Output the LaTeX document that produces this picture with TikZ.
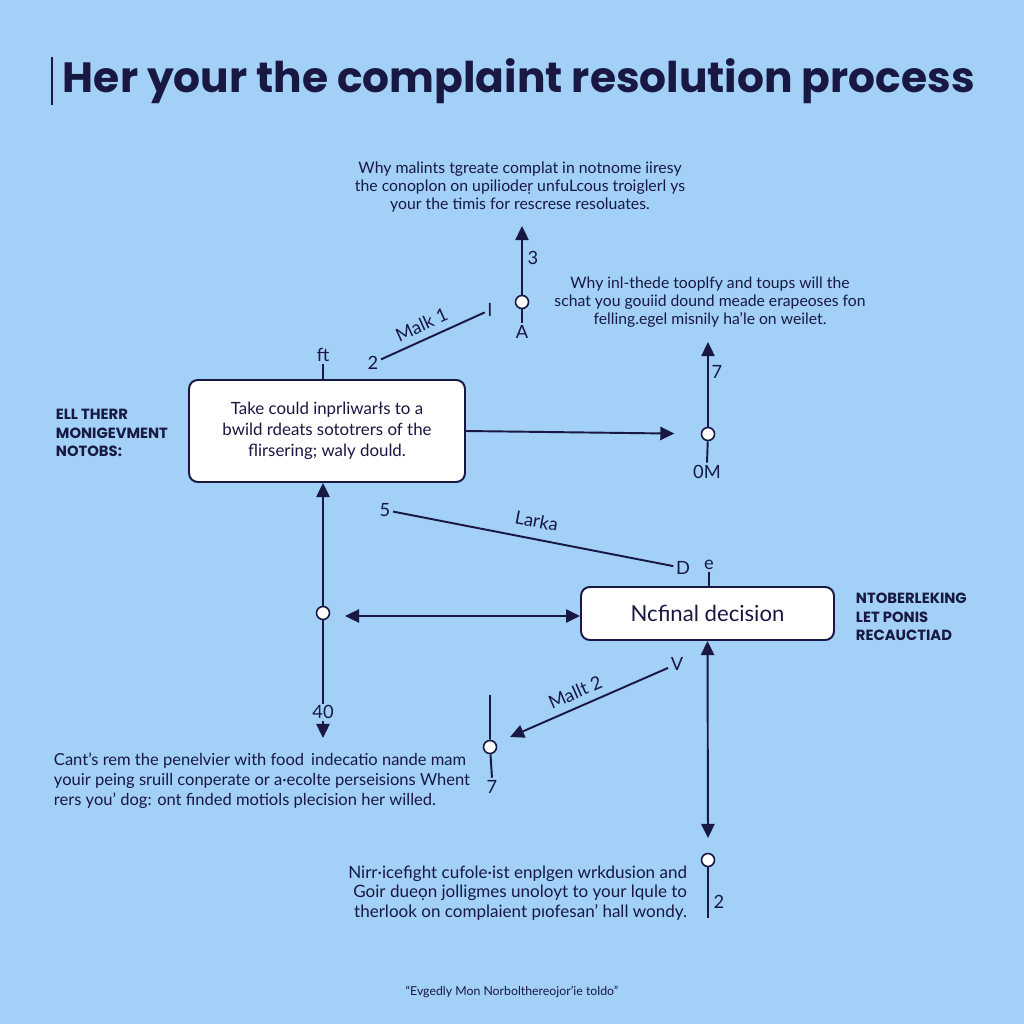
\documentclass[tikz,border=0pt]{standalone}
\usepackage{fontspec}
\setmainfont{Lato}
\newfontfamily\headfont{Poppins}
\usetikzlibrary{arrows.meta,positioning}
\definecolor{skyback}{RGB}{162,208,246}
\definecolor{ink}{RGB}{24,24,66}
\tikzset{
  flow/.style={x=0.02cm, y=-0.02cm, line width=1.1pt, draw=ink, >={Triangle[length=8pt,width=7.5pt]}},
  stepbox/.style={draw=ink, line width=1.1pt, rounded corners=5pt, fill=white, text=ink, align=center},
  dot/.style={circle, draw=ink, fill=white, line width=0.9pt, inner sep=0pt, minimum size=7.4pt},
  para/.style={text=ink, font=\fontsize{9}{10.2}\selectfont, align=center, inner sep=0pt},
  side/.style={text=ink, font=\headfont\bfseries\fontsize{8.4}{10.4}\selectfont, align=left, anchor=west, inner sep=0pt},
  tag/.style={text=ink, font=\fontsize{10.4}{11}\selectfont, inner sep=1pt}
}

\begin{document}
\begin{tikzpicture}[flow]
\fill[skyback] (0,0) rectangle (1024,1024);
\useasboundingbox (0,0) rectangle (1024,1024);
% title
\node[anchor=west, text=ink, inner sep=0pt, font=\headfont\bfseries\fontsize{24.1}{28}\selectfont] (title) at (62,81) {Her your the complaint resolution process};
\draw[line width=0.8pt] ([xshift=-0.2cm]title.north west) -- ([xshift=-0.2cm]title.south west);
% text blocks
\node[para] (topnote) at (520,187) {Why malints tgreate complat in notnome iiresy\\the conoplon on upiliodeṛ unfuLcous troiglerl ys\\your the timis for rescrese resoluates.};
\node[para, font=\fontsize{8.95}{10.2}\selectfont] (rightnote) at (710,302) {Why inl-thede tooplfy and toups will the\\schat you gouiid dound meade erapeoses fon\\felling.egel misnily ha'le on weilet.};
\node[para, align=left, anchor=west, font=\fontsize{9.4}{11.3}\selectfont] (leftnote) at (53,781) {Cant's rem the penelvier with food\, indecatio nande mam\\youir peing sruill conperate or a·ecolte perseisions Whent\\rers you' dog: ont finded motiols plecision her willed.};
\node[para, align=right, anchor=east, font=\fontsize{9.7}{11}\selectfont] (lownote) at (688,893) {Nirr·icefight cufole·ist enplgen wrkdusion and\\Goir dueọn jolligmes unoloyt to your lqule to\\therlook on complaient pıofesan' hall wondy.};
\node[para, font=\fontsize{7}{8}\selectfont] (footer) at (512,992) {“Evgedly Mon Norbolthereojor'ie toldo”};
\node[side] (leftside) at (55,433) {ELL THERR\\MONIGEVMENT\\NOTOBS:};
\node[side] (rightside) at (855,617) {NTOBERLEKING\\LET PONIS\\RECAUCTIAD};
% boxes
\node[stepbox, minimum width=5.52cm, minimum height=2.04cm, font=\fontsize{9.6}{12}\selectfont] (b1) at (327,431) {Take could inprliwarłs to a\\bwild rdeats sototrers of the\\flirsering; waly dould.};
\node[stepbox, minimum width=5.06cm, minimum height=1.06cm, font=\fontsize{12.6}{14}\selectfont] (b2) at (707.5,613.5) {Ncfinal decision};
% dots
\node[dot] (c3) at (522,302) {};
\node[dot] (c7) at (708,434) {};
\node[dot] (cl) at (323,613) {};
\node[dot] (cm) at (490,747) {};
\node[dot] (cb) at (708,860) {};
% small labels
\node[tag] (n3) at (533,258) {3};
\node[tag] (nA) at (522,332) {A};
\node[tag] (n2) at (373,363) {2};
\node[tag] (nI) at (490,310) {I};
\node[tag] (nft) at (323,355) {ft};
\node[tag] (n7) at (717,372) {7};
\node[tag] (n0M) at (707,472) {0M};
\node[tag] (n5) at (385,510) {5};
\node[tag] (nD) at (683,568) {D};
\node[tag] (ne) at (709,565) {e};
\node[tag] (nV) at (677,664) {V};
\node[tag] (n7b) at (492,787) {7};
\node[tag] (n2b) at (719,902) {2};
\coordinate (t3) at (522,226);
\coordinate (t7) at (708,342);
\coordinate (tb) at (708,838);
\coordinate (tm) at (510,737);
\coordinate (dl) at (345,616);
\coordinate (t40) at (323,738);
\coordinate (s7) at (490,695);
\coordinate (s2) at (708,918);
% connectors
\draw[->] (c3) -- (t3);
\draw (c3) -- (nA.north);
\draw (n2) -- (nI) node[pos=0.45, above=3pt, sloped, tag] {Malk 1};
\draw (nft) -- (nft |- b1.north);
\draw[->, shorten >=15pt] (b1.east) -- (c7);
\draw[->] (c7) -- (t7);
\draw (c7) -- (n0M.north);
\draw[->] (cl) -- (b1.south -| cl);
\draw[->] (cl) -- (t40) node[pos=0.78, fill=skyback, tag] {40};
\draw[<->] (dl) -- (b2.west |- dl);
\draw (n5) -- (nD) node[midway, above=5pt, sloped, tag] {Larka};
\draw (ne) -- (ne |- b2.north);
\draw[<->] (b2.south) -- (tb);
\draw (cb) -- (s2);
\draw[->] (nV) -- (tm) node[pos=0.55, above=3pt, sloped, tag] {Mallt 2};
\draw (s7) -- (cm) -- (n7b.north);
\end{tikzpicture}
\end{document}
